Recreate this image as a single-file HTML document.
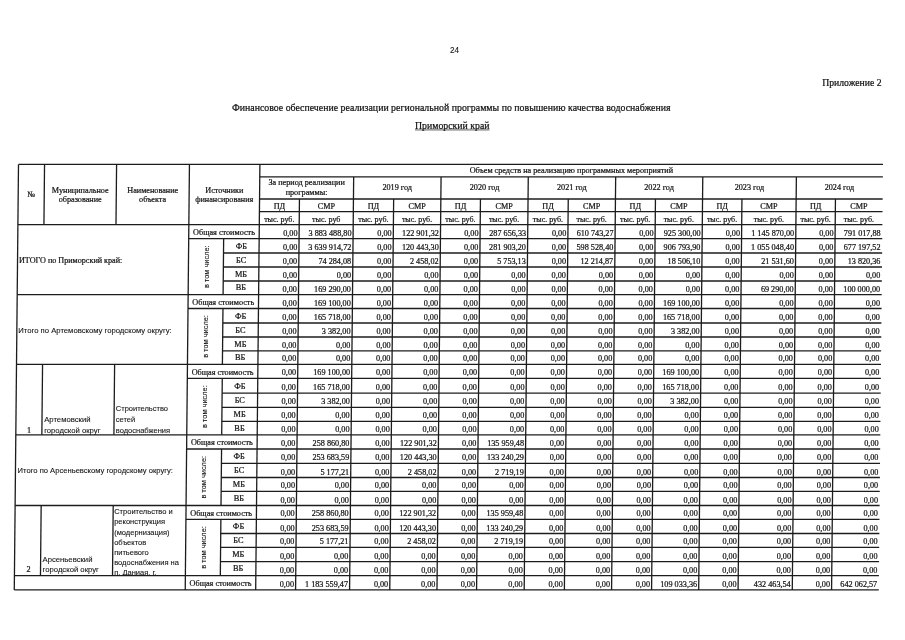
<!DOCTYPE html><html><head><meta charset="utf-8"><style>html,body{margin:0;padding:0;background:#fff;}body{width:905px;height:640px;overflow:hidden;position:relative;}svg{position:absolute;left:0;top:0;will-change:transform;} text{fill:#141414;} text.s{stroke:#111;stroke-width:0.22px;} text.a{stroke:#111;stroke-width:0.1px;}</style></head><body>
<svg width="905" height="640" viewBox="0 0 905 640">
<g stroke="#1c1c1c" stroke-width="1.3" fill="none">
<line x1="18.49" y1="164.40" x2="882.99" y2="164.40"/>
<line x1="259.77" y1="176.90" x2="882.87" y2="176.90"/>
<line x1="259.55" y1="199.00" x2="882.65" y2="199.00"/>
<line x1="259.42" y1="211.60" x2="882.52" y2="211.60"/>
<line x1="17.89" y1="224.70" x2="882.39" y2="224.70"/>
<line x1="18.49" y1="164.40" x2="14.28" y2="589.90"/>
<line x1="44.54" y1="164.40" x2="43.94" y2="224.70"/>
<line x1="116.59" y1="164.40" x2="115.99" y2="224.70"/>
<line x1="189.44" y1="164.40" x2="185.23" y2="589.90"/>
<line x1="259.89" y1="164.40" x2="255.68" y2="589.90"/>
<line x1="299.45" y1="199.00" x2="295.58" y2="589.90"/>
<line x1="353.67" y1="176.90" x2="349.58" y2="589.90"/>
<line x1="393.65" y1="199.00" x2="389.78" y2="589.90"/>
<line x1="441.07" y1="176.90" x2="436.98" y2="589.90"/>
<line x1="480.45" y1="199.00" x2="476.58" y2="589.90"/>
<line x1="528.27" y1="176.90" x2="524.18" y2="589.90"/>
<line x1="568.25" y1="199.00" x2="564.38" y2="589.90"/>
<line x1="615.67" y1="176.90" x2="611.58" y2="589.90"/>
<line x1="655.45" y1="199.00" x2="651.58" y2="589.90"/>
<line x1="702.77" y1="176.90" x2="698.68" y2="589.90"/>
<line x1="741.95" y1="199.00" x2="738.08" y2="589.90"/>
<line x1="796.37" y1="176.90" x2="792.28" y2="589.90"/>
<line x1="835.45" y1="199.00" x2="831.58" y2="589.90"/>
<line x1="17.20" y1="294.70" x2="881.70" y2="294.70"/>
<line x1="188.70" y1="238.70" x2="882.25" y2="238.70"/>
<line x1="223.51" y1="253.00" x2="882.11" y2="253.00"/>
<line x1="223.37" y1="267.00" x2="881.97" y2="267.00"/>
<line x1="223.24" y1="281.00" x2="881.84" y2="281.00"/>
<line x1="223.65" y1="238.70" x2="223.10" y2="294.70"/>
<line x1="16.51" y1="364.40" x2="881.01" y2="364.40"/>
<line x1="188.01" y1="308.50" x2="881.56" y2="308.50"/>
<line x1="222.82" y1="323.00" x2="881.42" y2="323.00"/>
<line x1="222.68" y1="337.00" x2="881.28" y2="337.00"/>
<line x1="222.54" y1="350.80" x2="881.14" y2="350.80"/>
<line x1="222.96" y1="308.50" x2="222.41" y2="364.40"/>
<line x1="15.81" y1="434.80" x2="880.31" y2="434.80"/>
<line x1="187.32" y1="378.40" x2="880.87" y2="378.40"/>
<line x1="222.12" y1="393.20" x2="880.72" y2="393.20"/>
<line x1="221.99" y1="407.30" x2="880.59" y2="407.30"/>
<line x1="221.85" y1="421.40" x2="880.45" y2="421.40"/>
<line x1="222.27" y1="378.40" x2="221.71" y2="434.80"/>
<line x1="42.56" y1="364.40" x2="41.86" y2="434.80"/>
<line x1="114.61" y1="364.40" x2="113.91" y2="434.80"/>
<line x1="15.11" y1="505.50" x2="879.61" y2="505.50"/>
<line x1="186.62" y1="449.00" x2="880.17" y2="449.00"/>
<line x1="221.43" y1="463.40" x2="880.03" y2="463.40"/>
<line x1="221.29" y1="477.50" x2="879.89" y2="477.50"/>
<line x1="221.15" y1="491.30" x2="879.75" y2="491.30"/>
<line x1="221.57" y1="449.00" x2="221.01" y2="505.50"/>
<line x1="14.42" y1="575.70" x2="878.92" y2="575.70"/>
<line x1="185.93" y1="519.30" x2="879.48" y2="519.30"/>
<line x1="220.74" y1="533.50" x2="879.34" y2="533.50"/>
<line x1="220.60" y1="547.30" x2="879.20" y2="547.30"/>
<line x1="220.46" y1="561.70" x2="879.06" y2="561.70"/>
<line x1="220.88" y1="519.30" x2="220.32" y2="575.70"/>
<line x1="41.16" y1="505.50" x2="40.47" y2="575.70"/>
<line x1="113.21" y1="505.50" x2="112.52" y2="575.70"/>
<line x1="14.28" y1="589.90" x2="878.78" y2="589.90"/>
</g>
<rect x="415" y="128.7" width="74.5" height="2.0" fill="#a0a0a0"/>
<defs><clipPath id="cp5"><rect x="100" y="505.5" width="90" height="69.60000000000005"/></clipPath></defs>
<text class="a" x="450.00" y="53.20" font-family="'Liberation Sans', sans-serif" font-size="8.2" text-anchor="start" stroke="#111" stroke-width="0.3">24</text>
<text class="s" x="881.50" y="85.50" font-family="'Liberation Serif', serif" font-size="9.7" text-anchor="end" >Приложение 2</text>
<text class="s" x="232.00" y="110.60" font-family="'Liberation Serif', serif" font-size="9.85" text-anchor="start" >Финансовое обеспечение реализации региональной программы по повышению качества водоснабжения</text>
<text class="s" x="415.00" y="128.60" font-family="'Liberation Serif', serif" font-size="9.8" text-anchor="start" >Приморский край</text>
<text class="s" x="31.20" y="196.50" font-family="'Liberation Serif', serif" font-size="8.2" text-anchor="middle" >№</text>
<text class="s" x="80.28" y="192.80" font-family="'Liberation Serif', serif" font-size="8.2" text-anchor="middle" >Муниципальное</text>
<text class="s" x="80.19" y="202.40" font-family="'Liberation Serif', serif" font-size="8.2" text-anchor="middle" >образование</text>
<text class="s" x="152.73" y="192.80" font-family="'Liberation Serif', serif" font-size="8.2" text-anchor="middle" >Наименование</text>
<text class="s" x="152.64" y="202.40" font-family="'Liberation Serif', serif" font-size="8.2" text-anchor="middle" >объекта</text>
<text class="s" x="224.38" y="192.80" font-family="'Liberation Serif', serif" font-size="8.2" text-anchor="middle" >Источники</text>
<text class="s" x="224.29" y="202.40" font-family="'Liberation Serif', serif" font-size="8.2" text-anchor="middle" >финансирования</text>
<text class="s" x="571.35" y="173.30" font-family="'Liberation Serif', serif" font-size="8.2" text-anchor="middle" >Объем средств на реализацию программных мероприятий</text>
<text class="s" x="306.63" y="185.30" font-family="'Liberation Serif', serif" font-size="8.2" text-anchor="middle" >За период реализации</text>
<text class="s" x="306.53" y="195.30" font-family="'Liberation Serif', serif" font-size="8.2" text-anchor="middle" >программы:</text>
<text class="s" x="397.23" y="190.30" font-family="'Liberation Serif', serif" font-size="8.2" text-anchor="middle" >2019 год</text>
<text class="s" x="484.53" y="190.30" font-family="'Liberation Serif', serif" font-size="8.2" text-anchor="middle" >2020 год</text>
<text class="s" x="571.83" y="190.30" font-family="'Liberation Serif', serif" font-size="8.2" text-anchor="middle" >2021 год</text>
<text class="s" x="659.08" y="190.30" font-family="'Liberation Serif', serif" font-size="8.2" text-anchor="middle" >2022 год</text>
<text class="s" x="749.43" y="190.30" font-family="'Liberation Serif', serif" font-size="8.2" text-anchor="middle" >2023 год</text>
<text class="s" x="839.48" y="190.30" font-family="'Liberation Serif', serif" font-size="8.2" text-anchor="middle" >2024 год</text>
<text class="s" x="279.40" y="209.20" font-family="'Liberation Serif', serif" font-size="8.2" text-anchor="middle" >ПД</text>
<text class="s" x="326.35" y="209.20" font-family="'Liberation Serif', serif" font-size="8.2" text-anchor="middle" >СМР</text>
<text class="s" x="279.27" y="221.60" font-family="'Liberation Serif', serif" font-size="8.0" text-anchor="middle" >тыс. руб.</text>
<text class="s" x="326.22" y="221.60" font-family="'Liberation Serif', serif" font-size="8.0" text-anchor="middle" >тыс. руб</text>
<text class="s" x="373.45" y="209.20" font-family="'Liberation Serif', serif" font-size="8.2" text-anchor="middle" >ПД</text>
<text class="s" x="417.15" y="209.20" font-family="'Liberation Serif', serif" font-size="8.2" text-anchor="middle" >СМР</text>
<text class="s" x="373.32" y="221.60" font-family="'Liberation Serif', serif" font-size="8.0" text-anchor="middle" >тыс. руб.</text>
<text class="s" x="417.02" y="221.60" font-family="'Liberation Serif', serif" font-size="8.0" text-anchor="middle" >тыс. руб.</text>
<text class="s" x="460.55" y="209.20" font-family="'Liberation Serif', serif" font-size="8.2" text-anchor="middle" >ПД</text>
<text class="s" x="504.15" y="209.20" font-family="'Liberation Serif', serif" font-size="8.2" text-anchor="middle" >СМР</text>
<text class="s" x="460.42" y="221.60" font-family="'Liberation Serif', serif" font-size="8.0" text-anchor="middle" >тыс. руб.</text>
<text class="s" x="504.02" y="221.60" font-family="'Liberation Serif', serif" font-size="8.0" text-anchor="middle" >тыс. руб.</text>
<text class="s" x="548.05" y="209.20" font-family="'Liberation Serif', serif" font-size="8.2" text-anchor="middle" >ПД</text>
<text class="s" x="591.75" y="209.20" font-family="'Liberation Serif', serif" font-size="8.2" text-anchor="middle" >СМР</text>
<text class="s" x="547.92" y="221.60" font-family="'Liberation Serif', serif" font-size="8.0" text-anchor="middle" >тыс. руб.</text>
<text class="s" x="591.62" y="221.60" font-family="'Liberation Serif', serif" font-size="8.0" text-anchor="middle" >тыс. руб.</text>
<text class="s" x="635.35" y="209.20" font-family="'Liberation Serif', serif" font-size="8.2" text-anchor="middle" >ПД</text>
<text class="s" x="678.90" y="209.20" font-family="'Liberation Serif', serif" font-size="8.2" text-anchor="middle" >СМР</text>
<text class="s" x="635.22" y="221.60" font-family="'Liberation Serif', serif" font-size="8.0" text-anchor="middle" >тыс. руб.</text>
<text class="s" x="678.77" y="221.60" font-family="'Liberation Serif', serif" font-size="8.0" text-anchor="middle" >тыс. руб.</text>
<text class="s" x="722.15" y="209.20" font-family="'Liberation Serif', serif" font-size="8.2" text-anchor="middle" >ПД</text>
<text class="s" x="768.95" y="209.20" font-family="'Liberation Serif', serif" font-size="8.2" text-anchor="middle" >СМР</text>
<text class="s" x="722.02" y="221.60" font-family="'Liberation Serif', serif" font-size="8.0" text-anchor="middle" >тыс. руб.</text>
<text class="s" x="768.82" y="221.60" font-family="'Liberation Serif', serif" font-size="8.0" text-anchor="middle" >тыс. руб.</text>
<text class="s" x="815.70" y="209.20" font-family="'Liberation Serif', serif" font-size="8.2" text-anchor="middle" >ПД</text>
<text class="s" x="858.95" y="209.20" font-family="'Liberation Serif', serif" font-size="8.2" text-anchor="middle" >СМР</text>
<text class="s" x="815.57" y="221.60" font-family="'Liberation Serif', serif" font-size="8.0" text-anchor="middle" >тыс. руб.</text>
<text class="s" x="858.82" y="221.60" font-family="'Liberation Serif', serif" font-size="8.0" text-anchor="middle" >тыс. руб.</text>
<text class="s" x="297.48" y="235.70" font-family="'Liberation Serif', serif" font-size="8.2" text-anchor="end" >0,00</text>
<text class="s" x="351.48" y="235.70" font-family="'Liberation Serif', serif" font-size="8.2" text-anchor="end" >3 883 488,80</text>
<text class="s" x="391.68" y="235.70" font-family="'Liberation Serif', serif" font-size="8.2" text-anchor="end" >0,00</text>
<text class="s" x="438.88" y="235.70" font-family="'Liberation Serif', serif" font-size="8.2" text-anchor="end" >122 901,32</text>
<text class="s" x="478.48" y="235.70" font-family="'Liberation Serif', serif" font-size="8.2" text-anchor="end" >0,00</text>
<text class="s" x="526.08" y="235.70" font-family="'Liberation Serif', serif" font-size="8.2" text-anchor="end" >287 656,33</text>
<text class="s" x="566.28" y="235.70" font-family="'Liberation Serif', serif" font-size="8.2" text-anchor="end" >0,00</text>
<text class="s" x="613.48" y="235.70" font-family="'Liberation Serif', serif" font-size="8.2" text-anchor="end" >610 743,27</text>
<text class="s" x="653.48" y="235.70" font-family="'Liberation Serif', serif" font-size="8.2" text-anchor="end" >0,00</text>
<text class="s" x="700.58" y="235.70" font-family="'Liberation Serif', serif" font-size="8.2" text-anchor="end" >925 300,00</text>
<text class="s" x="739.98" y="235.70" font-family="'Liberation Serif', serif" font-size="8.2" text-anchor="end" >0,00</text>
<text class="s" x="794.18" y="235.70" font-family="'Liberation Serif', serif" font-size="8.2" text-anchor="end" >1 145 870,00</text>
<text class="s" x="833.48" y="235.70" font-family="'Liberation Serif', serif" font-size="8.2" text-anchor="end" >0,00</text>
<text class="s" x="880.68" y="235.70" font-family="'Liberation Serif', serif" font-size="8.2" text-anchor="end" >791 017,88</text>
<text class="s" x="223.97" y="235.00" font-family="'Liberation Serif', serif" font-size="8.2" text-anchor="middle" >Общая стоимость</text>
<text class="s" x="297.34" y="250.00" font-family="'Liberation Serif', serif" font-size="8.2" text-anchor="end" >0,00</text>
<text class="s" x="351.34" y="250.00" font-family="'Liberation Serif', serif" font-size="8.2" text-anchor="end" >3 639 914,72</text>
<text class="s" x="391.54" y="250.00" font-family="'Liberation Serif', serif" font-size="8.2" text-anchor="end" >0,00</text>
<text class="s" x="438.74" y="250.00" font-family="'Liberation Serif', serif" font-size="8.2" text-anchor="end" >120 443,30</text>
<text class="s" x="478.34" y="250.00" font-family="'Liberation Serif', serif" font-size="8.2" text-anchor="end" >0,00</text>
<text class="s" x="525.94" y="250.00" font-family="'Liberation Serif', serif" font-size="8.2" text-anchor="end" >281 903,20</text>
<text class="s" x="566.14" y="250.00" font-family="'Liberation Serif', serif" font-size="8.2" text-anchor="end" >0,00</text>
<text class="s" x="613.34" y="250.00" font-family="'Liberation Serif', serif" font-size="8.2" text-anchor="end" >598 528,40</text>
<text class="s" x="653.34" y="250.00" font-family="'Liberation Serif', serif" font-size="8.2" text-anchor="end" >0,00</text>
<text class="s" x="700.44" y="250.00" font-family="'Liberation Serif', serif" font-size="8.2" text-anchor="end" >906 793,90</text>
<text class="s" x="739.84" y="250.00" font-family="'Liberation Serif', serif" font-size="8.2" text-anchor="end" >0,00</text>
<text class="s" x="794.04" y="250.00" font-family="'Liberation Serif', serif" font-size="8.2" text-anchor="end" >1 055 048,40</text>
<text class="s" x="833.34" y="250.00" font-family="'Liberation Serif', serif" font-size="8.2" text-anchor="end" >0,00</text>
<text class="s" x="880.54" y="250.00" font-family="'Liberation Serif', serif" font-size="8.2" text-anchor="end" >677 197,52</text>
<text class="s" x="241.31" y="248.70" font-family="'Liberation Serif', serif" font-size="8.3" text-anchor="middle" >ФБ</text>
<text class="s" x="297.20" y="264.00" font-family="'Liberation Serif', serif" font-size="8.2" text-anchor="end" >0,00</text>
<text class="s" x="351.20" y="264.00" font-family="'Liberation Serif', serif" font-size="8.2" text-anchor="end" >74 284,08</text>
<text class="s" x="391.40" y="264.00" font-family="'Liberation Serif', serif" font-size="8.2" text-anchor="end" >0,00</text>
<text class="s" x="438.60" y="264.00" font-family="'Liberation Serif', serif" font-size="8.2" text-anchor="end" >2 458,02</text>
<text class="s" x="478.20" y="264.00" font-family="'Liberation Serif', serif" font-size="8.2" text-anchor="end" >0,00</text>
<text class="s" x="525.80" y="264.00" font-family="'Liberation Serif', serif" font-size="8.2" text-anchor="end" >5 753,13</text>
<text class="s" x="566.00" y="264.00" font-family="'Liberation Serif', serif" font-size="8.2" text-anchor="end" >0,00</text>
<text class="s" x="613.20" y="264.00" font-family="'Liberation Serif', serif" font-size="8.2" text-anchor="end" >12 214,87</text>
<text class="s" x="653.20" y="264.00" font-family="'Liberation Serif', serif" font-size="8.2" text-anchor="end" >0,00</text>
<text class="s" x="700.30" y="264.00" font-family="'Liberation Serif', serif" font-size="8.2" text-anchor="end" >18 506,10</text>
<text class="s" x="739.70" y="264.00" font-family="'Liberation Serif', serif" font-size="8.2" text-anchor="end" >0,00</text>
<text class="s" x="793.90" y="264.00" font-family="'Liberation Serif', serif" font-size="8.2" text-anchor="end" >21 531,60</text>
<text class="s" x="833.20" y="264.00" font-family="'Liberation Serif', serif" font-size="8.2" text-anchor="end" >0,00</text>
<text class="s" x="880.40" y="264.00" font-family="'Liberation Serif', serif" font-size="8.2" text-anchor="end" >13 820,36</text>
<text class="s" x="241.17" y="262.70" font-family="'Liberation Serif', serif" font-size="8.3" text-anchor="middle" >БС</text>
<text class="s" x="297.07" y="278.00" font-family="'Liberation Serif', serif" font-size="8.2" text-anchor="end" >0,00</text>
<text class="s" x="351.07" y="278.00" font-family="'Liberation Serif', serif" font-size="8.2" text-anchor="end" >0,00</text>
<text class="s" x="391.27" y="278.00" font-family="'Liberation Serif', serif" font-size="8.2" text-anchor="end" >0,00</text>
<text class="s" x="438.47" y="278.00" font-family="'Liberation Serif', serif" font-size="8.2" text-anchor="end" >0,00</text>
<text class="s" x="478.07" y="278.00" font-family="'Liberation Serif', serif" font-size="8.2" text-anchor="end" >0,00</text>
<text class="s" x="525.67" y="278.00" font-family="'Liberation Serif', serif" font-size="8.2" text-anchor="end" >0,00</text>
<text class="s" x="565.87" y="278.00" font-family="'Liberation Serif', serif" font-size="8.2" text-anchor="end" >0,00</text>
<text class="s" x="613.07" y="278.00" font-family="'Liberation Serif', serif" font-size="8.2" text-anchor="end" >0,00</text>
<text class="s" x="653.07" y="278.00" font-family="'Liberation Serif', serif" font-size="8.2" text-anchor="end" >0,00</text>
<text class="s" x="700.17" y="278.00" font-family="'Liberation Serif', serif" font-size="8.2" text-anchor="end" >0,00</text>
<text class="s" x="739.57" y="278.00" font-family="'Liberation Serif', serif" font-size="8.2" text-anchor="end" >0,00</text>
<text class="s" x="793.77" y="278.00" font-family="'Liberation Serif', serif" font-size="8.2" text-anchor="end" >0,00</text>
<text class="s" x="833.07" y="278.00" font-family="'Liberation Serif', serif" font-size="8.2" text-anchor="end" >0,00</text>
<text class="s" x="880.27" y="278.00" font-family="'Liberation Serif', serif" font-size="8.2" text-anchor="end" >0,00</text>
<text class="s" x="241.03" y="276.70" font-family="'Liberation Serif', serif" font-size="8.3" text-anchor="middle" >МБ</text>
<text class="s" x="296.93" y="291.70" font-family="'Liberation Serif', serif" font-size="8.2" text-anchor="end" >0,00</text>
<text class="s" x="350.93" y="291.70" font-family="'Liberation Serif', serif" font-size="8.2" text-anchor="end" >169 290,00</text>
<text class="s" x="391.13" y="291.70" font-family="'Liberation Serif', serif" font-size="8.2" text-anchor="end" >0,00</text>
<text class="s" x="438.33" y="291.70" font-family="'Liberation Serif', serif" font-size="8.2" text-anchor="end" >0,00</text>
<text class="s" x="477.93" y="291.70" font-family="'Liberation Serif', serif" font-size="8.2" text-anchor="end" >0,00</text>
<text class="s" x="525.53" y="291.70" font-family="'Liberation Serif', serif" font-size="8.2" text-anchor="end" >0,00</text>
<text class="s" x="565.73" y="291.70" font-family="'Liberation Serif', serif" font-size="8.2" text-anchor="end" >0,00</text>
<text class="s" x="612.93" y="291.70" font-family="'Liberation Serif', serif" font-size="8.2" text-anchor="end" >0,00</text>
<text class="s" x="652.93" y="291.70" font-family="'Liberation Serif', serif" font-size="8.2" text-anchor="end" >0,00</text>
<text class="s" x="700.03" y="291.70" font-family="'Liberation Serif', serif" font-size="8.2" text-anchor="end" >0,00</text>
<text class="s" x="739.43" y="291.70" font-family="'Liberation Serif', serif" font-size="8.2" text-anchor="end" >0,00</text>
<text class="s" x="793.63" y="291.70" font-family="'Liberation Serif', serif" font-size="8.2" text-anchor="end" >69 290,00</text>
<text class="s" x="832.93" y="291.70" font-family="'Liberation Serif', serif" font-size="8.2" text-anchor="end" >0,00</text>
<text class="s" x="880.13" y="291.70" font-family="'Liberation Serif', serif" font-size="8.2" text-anchor="end" >100 000,00</text>
<text class="s" x="240.89" y="290.40" font-family="'Liberation Serif', serif" font-size="8.3" text-anchor="middle" >ВБ</text>
<text class="s" x="296.79" y="305.50" font-family="'Liberation Serif', serif" font-size="8.2" text-anchor="end" >0,00</text>
<text class="s" x="350.79" y="305.50" font-family="'Liberation Serif', serif" font-size="8.2" text-anchor="end" >169 100,00</text>
<text class="s" x="390.99" y="305.50" font-family="'Liberation Serif', serif" font-size="8.2" text-anchor="end" >0,00</text>
<text class="s" x="438.19" y="305.50" font-family="'Liberation Serif', serif" font-size="8.2" text-anchor="end" >0,00</text>
<text class="s" x="477.79" y="305.50" font-family="'Liberation Serif', serif" font-size="8.2" text-anchor="end" >0,00</text>
<text class="s" x="525.39" y="305.50" font-family="'Liberation Serif', serif" font-size="8.2" text-anchor="end" >0,00</text>
<text class="s" x="565.59" y="305.50" font-family="'Liberation Serif', serif" font-size="8.2" text-anchor="end" >0,00</text>
<text class="s" x="612.79" y="305.50" font-family="'Liberation Serif', serif" font-size="8.2" text-anchor="end" >0,00</text>
<text class="s" x="652.79" y="305.50" font-family="'Liberation Serif', serif" font-size="8.2" text-anchor="end" >0,00</text>
<text class="s" x="699.89" y="305.50" font-family="'Liberation Serif', serif" font-size="8.2" text-anchor="end" >169 100,00</text>
<text class="s" x="739.29" y="305.50" font-family="'Liberation Serif', serif" font-size="8.2" text-anchor="end" >0,00</text>
<text class="s" x="793.49" y="305.50" font-family="'Liberation Serif', serif" font-size="8.2" text-anchor="end" >0,00</text>
<text class="s" x="832.79" y="305.50" font-family="'Liberation Serif', serif" font-size="8.2" text-anchor="end" >0,00</text>
<text class="s" x="879.99" y="305.50" font-family="'Liberation Serif', serif" font-size="8.2" text-anchor="end" >0,00</text>
<text class="s" x="223.28" y="304.80" font-family="'Liberation Serif', serif" font-size="8.2" text-anchor="middle" >Общая стоимость</text>
<text class="s" x="296.65" y="320.00" font-family="'Liberation Serif', serif" font-size="8.2" text-anchor="end" >0,00</text>
<text class="s" x="350.65" y="320.00" font-family="'Liberation Serif', serif" font-size="8.2" text-anchor="end" >165 718,00</text>
<text class="s" x="390.85" y="320.00" font-family="'Liberation Serif', serif" font-size="8.2" text-anchor="end" >0,00</text>
<text class="s" x="438.05" y="320.00" font-family="'Liberation Serif', serif" font-size="8.2" text-anchor="end" >0,00</text>
<text class="s" x="477.65" y="320.00" font-family="'Liberation Serif', serif" font-size="8.2" text-anchor="end" >0,00</text>
<text class="s" x="525.25" y="320.00" font-family="'Liberation Serif', serif" font-size="8.2" text-anchor="end" >0,00</text>
<text class="s" x="565.45" y="320.00" font-family="'Liberation Serif', serif" font-size="8.2" text-anchor="end" >0,00</text>
<text class="s" x="612.65" y="320.00" font-family="'Liberation Serif', serif" font-size="8.2" text-anchor="end" >0,00</text>
<text class="s" x="652.65" y="320.00" font-family="'Liberation Serif', serif" font-size="8.2" text-anchor="end" >0,00</text>
<text class="s" x="699.75" y="320.00" font-family="'Liberation Serif', serif" font-size="8.2" text-anchor="end" >165 718,00</text>
<text class="s" x="739.15" y="320.00" font-family="'Liberation Serif', serif" font-size="8.2" text-anchor="end" >0,00</text>
<text class="s" x="793.35" y="320.00" font-family="'Liberation Serif', serif" font-size="8.2" text-anchor="end" >0,00</text>
<text class="s" x="832.65" y="320.00" font-family="'Liberation Serif', serif" font-size="8.2" text-anchor="end" >0,00</text>
<text class="s" x="879.85" y="320.00" font-family="'Liberation Serif', serif" font-size="8.2" text-anchor="end" >0,00</text>
<text class="s" x="240.61" y="318.70" font-family="'Liberation Serif', serif" font-size="8.3" text-anchor="middle" >ФБ</text>
<text class="s" x="296.51" y="334.00" font-family="'Liberation Serif', serif" font-size="8.2" text-anchor="end" >0,00</text>
<text class="s" x="350.51" y="334.00" font-family="'Liberation Serif', serif" font-size="8.2" text-anchor="end" >3 382,00</text>
<text class="s" x="390.71" y="334.00" font-family="'Liberation Serif', serif" font-size="8.2" text-anchor="end" >0,00</text>
<text class="s" x="437.91" y="334.00" font-family="'Liberation Serif', serif" font-size="8.2" text-anchor="end" >0,00</text>
<text class="s" x="477.51" y="334.00" font-family="'Liberation Serif', serif" font-size="8.2" text-anchor="end" >0,00</text>
<text class="s" x="525.11" y="334.00" font-family="'Liberation Serif', serif" font-size="8.2" text-anchor="end" >0,00</text>
<text class="s" x="565.31" y="334.00" font-family="'Liberation Serif', serif" font-size="8.2" text-anchor="end" >0,00</text>
<text class="s" x="612.51" y="334.00" font-family="'Liberation Serif', serif" font-size="8.2" text-anchor="end" >0,00</text>
<text class="s" x="652.51" y="334.00" font-family="'Liberation Serif', serif" font-size="8.2" text-anchor="end" >0,00</text>
<text class="s" x="699.61" y="334.00" font-family="'Liberation Serif', serif" font-size="8.2" text-anchor="end" >3 382,00</text>
<text class="s" x="739.01" y="334.00" font-family="'Liberation Serif', serif" font-size="8.2" text-anchor="end" >0,00</text>
<text class="s" x="793.21" y="334.00" font-family="'Liberation Serif', serif" font-size="8.2" text-anchor="end" >0,00</text>
<text class="s" x="832.51" y="334.00" font-family="'Liberation Serif', serif" font-size="8.2" text-anchor="end" >0,00</text>
<text class="s" x="879.71" y="334.00" font-family="'Liberation Serif', serif" font-size="8.2" text-anchor="end" >0,00</text>
<text class="s" x="240.47" y="332.70" font-family="'Liberation Serif', serif" font-size="8.3" text-anchor="middle" >БС</text>
<text class="s" x="296.37" y="347.80" font-family="'Liberation Serif', serif" font-size="8.2" text-anchor="end" >0,00</text>
<text class="s" x="350.37" y="347.80" font-family="'Liberation Serif', serif" font-size="8.2" text-anchor="end" >0,00</text>
<text class="s" x="390.57" y="347.80" font-family="'Liberation Serif', serif" font-size="8.2" text-anchor="end" >0,00</text>
<text class="s" x="437.77" y="347.80" font-family="'Liberation Serif', serif" font-size="8.2" text-anchor="end" >0,00</text>
<text class="s" x="477.37" y="347.80" font-family="'Liberation Serif', serif" font-size="8.2" text-anchor="end" >0,00</text>
<text class="s" x="524.97" y="347.80" font-family="'Liberation Serif', serif" font-size="8.2" text-anchor="end" >0,00</text>
<text class="s" x="565.17" y="347.80" font-family="'Liberation Serif', serif" font-size="8.2" text-anchor="end" >0,00</text>
<text class="s" x="612.37" y="347.80" font-family="'Liberation Serif', serif" font-size="8.2" text-anchor="end" >0,00</text>
<text class="s" x="652.37" y="347.80" font-family="'Liberation Serif', serif" font-size="8.2" text-anchor="end" >0,00</text>
<text class="s" x="699.47" y="347.80" font-family="'Liberation Serif', serif" font-size="8.2" text-anchor="end" >0,00</text>
<text class="s" x="738.87" y="347.80" font-family="'Liberation Serif', serif" font-size="8.2" text-anchor="end" >0,00</text>
<text class="s" x="793.07" y="347.80" font-family="'Liberation Serif', serif" font-size="8.2" text-anchor="end" >0,00</text>
<text class="s" x="832.37" y="347.80" font-family="'Liberation Serif', serif" font-size="8.2" text-anchor="end" >0,00</text>
<text class="s" x="879.57" y="347.80" font-family="'Liberation Serif', serif" font-size="8.2" text-anchor="end" >0,00</text>
<text class="s" x="240.34" y="346.50" font-family="'Liberation Serif', serif" font-size="8.3" text-anchor="middle" >МБ</text>
<text class="s" x="296.24" y="361.40" font-family="'Liberation Serif', serif" font-size="8.2" text-anchor="end" >0,00</text>
<text class="s" x="350.24" y="361.40" font-family="'Liberation Serif', serif" font-size="8.2" text-anchor="end" >0,00</text>
<text class="s" x="390.44" y="361.40" font-family="'Liberation Serif', serif" font-size="8.2" text-anchor="end" >0,00</text>
<text class="s" x="437.64" y="361.40" font-family="'Liberation Serif', serif" font-size="8.2" text-anchor="end" >0,00</text>
<text class="s" x="477.24" y="361.40" font-family="'Liberation Serif', serif" font-size="8.2" text-anchor="end" >0,00</text>
<text class="s" x="524.84" y="361.40" font-family="'Liberation Serif', serif" font-size="8.2" text-anchor="end" >0,00</text>
<text class="s" x="565.04" y="361.40" font-family="'Liberation Serif', serif" font-size="8.2" text-anchor="end" >0,00</text>
<text class="s" x="612.24" y="361.40" font-family="'Liberation Serif', serif" font-size="8.2" text-anchor="end" >0,00</text>
<text class="s" x="652.24" y="361.40" font-family="'Liberation Serif', serif" font-size="8.2" text-anchor="end" >0,00</text>
<text class="s" x="699.34" y="361.40" font-family="'Liberation Serif', serif" font-size="8.2" text-anchor="end" >0,00</text>
<text class="s" x="738.74" y="361.40" font-family="'Liberation Serif', serif" font-size="8.2" text-anchor="end" >0,00</text>
<text class="s" x="792.94" y="361.40" font-family="'Liberation Serif', serif" font-size="8.2" text-anchor="end" >0,00</text>
<text class="s" x="832.24" y="361.40" font-family="'Liberation Serif', serif" font-size="8.2" text-anchor="end" >0,00</text>
<text class="s" x="879.44" y="361.40" font-family="'Liberation Serif', serif" font-size="8.2" text-anchor="end" >0,00</text>
<text class="s" x="240.20" y="360.10" font-family="'Liberation Serif', serif" font-size="8.3" text-anchor="middle" >ВБ</text>
<text class="s" x="296.10" y="375.40" font-family="'Liberation Serif', serif" font-size="8.2" text-anchor="end" >0,00</text>
<text class="s" x="350.10" y="375.40" font-family="'Liberation Serif', serif" font-size="8.2" text-anchor="end" >169 100,00</text>
<text class="s" x="390.30" y="375.40" font-family="'Liberation Serif', serif" font-size="8.2" text-anchor="end" >0,00</text>
<text class="s" x="437.50" y="375.40" font-family="'Liberation Serif', serif" font-size="8.2" text-anchor="end" >0,00</text>
<text class="s" x="477.10" y="375.40" font-family="'Liberation Serif', serif" font-size="8.2" text-anchor="end" >0,00</text>
<text class="s" x="524.70" y="375.40" font-family="'Liberation Serif', serif" font-size="8.2" text-anchor="end" >0,00</text>
<text class="s" x="564.90" y="375.40" font-family="'Liberation Serif', serif" font-size="8.2" text-anchor="end" >0,00</text>
<text class="s" x="612.10" y="375.40" font-family="'Liberation Serif', serif" font-size="8.2" text-anchor="end" >0,00</text>
<text class="s" x="652.10" y="375.40" font-family="'Liberation Serif', serif" font-size="8.2" text-anchor="end" >0,00</text>
<text class="s" x="699.20" y="375.40" font-family="'Liberation Serif', serif" font-size="8.2" text-anchor="end" >169 100,00</text>
<text class="s" x="738.60" y="375.40" font-family="'Liberation Serif', serif" font-size="8.2" text-anchor="end" >0,00</text>
<text class="s" x="792.80" y="375.40" font-family="'Liberation Serif', serif" font-size="8.2" text-anchor="end" >0,00</text>
<text class="s" x="832.10" y="375.40" font-family="'Liberation Serif', serif" font-size="8.2" text-anchor="end" >0,00</text>
<text class="s" x="879.30" y="375.40" font-family="'Liberation Serif', serif" font-size="8.2" text-anchor="end" >0,00</text>
<text class="s" x="222.58" y="374.70" font-family="'Liberation Serif', serif" font-size="8.2" text-anchor="middle" >Общая стоимость</text>
<text class="s" x="295.95" y="390.20" font-family="'Liberation Serif', serif" font-size="8.2" text-anchor="end" >0,00</text>
<text class="s" x="349.95" y="390.20" font-family="'Liberation Serif', serif" font-size="8.2" text-anchor="end" >165 718,00</text>
<text class="s" x="390.15" y="390.20" font-family="'Liberation Serif', serif" font-size="8.2" text-anchor="end" >0,00</text>
<text class="s" x="437.35" y="390.20" font-family="'Liberation Serif', serif" font-size="8.2" text-anchor="end" >0,00</text>
<text class="s" x="476.95" y="390.20" font-family="'Liberation Serif', serif" font-size="8.2" text-anchor="end" >0,00</text>
<text class="s" x="524.55" y="390.20" font-family="'Liberation Serif', serif" font-size="8.2" text-anchor="end" >0,00</text>
<text class="s" x="564.75" y="390.20" font-family="'Liberation Serif', serif" font-size="8.2" text-anchor="end" >0,00</text>
<text class="s" x="611.95" y="390.20" font-family="'Liberation Serif', serif" font-size="8.2" text-anchor="end" >0,00</text>
<text class="s" x="651.95" y="390.20" font-family="'Liberation Serif', serif" font-size="8.2" text-anchor="end" >0,00</text>
<text class="s" x="699.05" y="390.20" font-family="'Liberation Serif', serif" font-size="8.2" text-anchor="end" >165 718,00</text>
<text class="s" x="738.45" y="390.20" font-family="'Liberation Serif', serif" font-size="8.2" text-anchor="end" >0,00</text>
<text class="s" x="792.65" y="390.20" font-family="'Liberation Serif', serif" font-size="8.2" text-anchor="end" >0,00</text>
<text class="s" x="831.95" y="390.20" font-family="'Liberation Serif', serif" font-size="8.2" text-anchor="end" >0,00</text>
<text class="s" x="879.15" y="390.20" font-family="'Liberation Serif', serif" font-size="8.2" text-anchor="end" >0,00</text>
<text class="s" x="239.92" y="388.90" font-family="'Liberation Serif', serif" font-size="8.3" text-anchor="middle" >ФБ</text>
<text class="s" x="295.82" y="404.30" font-family="'Liberation Serif', serif" font-size="8.2" text-anchor="end" >0,00</text>
<text class="s" x="349.82" y="404.30" font-family="'Liberation Serif', serif" font-size="8.2" text-anchor="end" >3 382,00</text>
<text class="s" x="390.02" y="404.30" font-family="'Liberation Serif', serif" font-size="8.2" text-anchor="end" >0,00</text>
<text class="s" x="437.22" y="404.30" font-family="'Liberation Serif', serif" font-size="8.2" text-anchor="end" >0,00</text>
<text class="s" x="476.82" y="404.30" font-family="'Liberation Serif', serif" font-size="8.2" text-anchor="end" >0,00</text>
<text class="s" x="524.42" y="404.30" font-family="'Liberation Serif', serif" font-size="8.2" text-anchor="end" >0,00</text>
<text class="s" x="564.62" y="404.30" font-family="'Liberation Serif', serif" font-size="8.2" text-anchor="end" >0,00</text>
<text class="s" x="611.82" y="404.30" font-family="'Liberation Serif', serif" font-size="8.2" text-anchor="end" >0,00</text>
<text class="s" x="651.82" y="404.30" font-family="'Liberation Serif', serif" font-size="8.2" text-anchor="end" >0,00</text>
<text class="s" x="698.92" y="404.30" font-family="'Liberation Serif', serif" font-size="8.2" text-anchor="end" >3 382,00</text>
<text class="s" x="738.32" y="404.30" font-family="'Liberation Serif', serif" font-size="8.2" text-anchor="end" >0,00</text>
<text class="s" x="792.52" y="404.30" font-family="'Liberation Serif', serif" font-size="8.2" text-anchor="end" >0,00</text>
<text class="s" x="831.82" y="404.30" font-family="'Liberation Serif', serif" font-size="8.2" text-anchor="end" >0,00</text>
<text class="s" x="879.02" y="404.30" font-family="'Liberation Serif', serif" font-size="8.2" text-anchor="end" >0,00</text>
<text class="s" x="239.78" y="403.00" font-family="'Liberation Serif', serif" font-size="8.3" text-anchor="middle" >БС</text>
<text class="s" x="295.68" y="418.40" font-family="'Liberation Serif', serif" font-size="8.2" text-anchor="end" >0,00</text>
<text class="s" x="349.68" y="418.40" font-family="'Liberation Serif', serif" font-size="8.2" text-anchor="end" >0,00</text>
<text class="s" x="389.88" y="418.40" font-family="'Liberation Serif', serif" font-size="8.2" text-anchor="end" >0,00</text>
<text class="s" x="437.08" y="418.40" font-family="'Liberation Serif', serif" font-size="8.2" text-anchor="end" >0,00</text>
<text class="s" x="476.68" y="418.40" font-family="'Liberation Serif', serif" font-size="8.2" text-anchor="end" >0,00</text>
<text class="s" x="524.28" y="418.40" font-family="'Liberation Serif', serif" font-size="8.2" text-anchor="end" >0,00</text>
<text class="s" x="564.48" y="418.40" font-family="'Liberation Serif', serif" font-size="8.2" text-anchor="end" >0,00</text>
<text class="s" x="611.68" y="418.40" font-family="'Liberation Serif', serif" font-size="8.2" text-anchor="end" >0,00</text>
<text class="s" x="651.68" y="418.40" font-family="'Liberation Serif', serif" font-size="8.2" text-anchor="end" >0,00</text>
<text class="s" x="698.78" y="418.40" font-family="'Liberation Serif', serif" font-size="8.2" text-anchor="end" >0,00</text>
<text class="s" x="738.18" y="418.40" font-family="'Liberation Serif', serif" font-size="8.2" text-anchor="end" >0,00</text>
<text class="s" x="792.38" y="418.40" font-family="'Liberation Serif', serif" font-size="8.2" text-anchor="end" >0,00</text>
<text class="s" x="831.68" y="418.40" font-family="'Liberation Serif', serif" font-size="8.2" text-anchor="end" >0,00</text>
<text class="s" x="878.88" y="418.40" font-family="'Liberation Serif', serif" font-size="8.2" text-anchor="end" >0,00</text>
<text class="s" x="239.64" y="417.10" font-family="'Liberation Serif', serif" font-size="8.3" text-anchor="middle" >МБ</text>
<text class="s" x="295.54" y="431.80" font-family="'Liberation Serif', serif" font-size="8.2" text-anchor="end" >0,00</text>
<text class="s" x="349.54" y="431.80" font-family="'Liberation Serif', serif" font-size="8.2" text-anchor="end" >0,00</text>
<text class="s" x="389.74" y="431.80" font-family="'Liberation Serif', serif" font-size="8.2" text-anchor="end" >0,00</text>
<text class="s" x="436.94" y="431.80" font-family="'Liberation Serif', serif" font-size="8.2" text-anchor="end" >0,00</text>
<text class="s" x="476.54" y="431.80" font-family="'Liberation Serif', serif" font-size="8.2" text-anchor="end" >0,00</text>
<text class="s" x="524.14" y="431.80" font-family="'Liberation Serif', serif" font-size="8.2" text-anchor="end" >0,00</text>
<text class="s" x="564.34" y="431.80" font-family="'Liberation Serif', serif" font-size="8.2" text-anchor="end" >0,00</text>
<text class="s" x="611.54" y="431.80" font-family="'Liberation Serif', serif" font-size="8.2" text-anchor="end" >0,00</text>
<text class="s" x="651.54" y="431.80" font-family="'Liberation Serif', serif" font-size="8.2" text-anchor="end" >0,00</text>
<text class="s" x="698.64" y="431.80" font-family="'Liberation Serif', serif" font-size="8.2" text-anchor="end" >0,00</text>
<text class="s" x="738.04" y="431.80" font-family="'Liberation Serif', serif" font-size="8.2" text-anchor="end" >0,00</text>
<text class="s" x="792.24" y="431.80" font-family="'Liberation Serif', serif" font-size="8.2" text-anchor="end" >0,00</text>
<text class="s" x="831.54" y="431.80" font-family="'Liberation Serif', serif" font-size="8.2" text-anchor="end" >0,00</text>
<text class="s" x="878.74" y="431.80" font-family="'Liberation Serif', serif" font-size="8.2" text-anchor="end" >0,00</text>
<text class="s" x="239.51" y="430.50" font-family="'Liberation Serif', serif" font-size="8.3" text-anchor="middle" >ВБ</text>
<text class="s" x="295.40" y="446.00" font-family="'Liberation Serif', serif" font-size="8.2" text-anchor="end" >0,00</text>
<text class="s" x="349.40" y="446.00" font-family="'Liberation Serif', serif" font-size="8.2" text-anchor="end" >258 860,80</text>
<text class="s" x="389.60" y="446.00" font-family="'Liberation Serif', serif" font-size="8.2" text-anchor="end" >0,00</text>
<text class="s" x="436.80" y="446.00" font-family="'Liberation Serif', serif" font-size="8.2" text-anchor="end" >122 901,32</text>
<text class="s" x="476.40" y="446.00" font-family="'Liberation Serif', serif" font-size="8.2" text-anchor="end" >0,00</text>
<text class="s" x="524.00" y="446.00" font-family="'Liberation Serif', serif" font-size="8.2" text-anchor="end" >135 959,48</text>
<text class="s" x="564.20" y="446.00" font-family="'Liberation Serif', serif" font-size="8.2" text-anchor="end" >0,00</text>
<text class="s" x="611.40" y="446.00" font-family="'Liberation Serif', serif" font-size="8.2" text-anchor="end" >0,00</text>
<text class="s" x="651.40" y="446.00" font-family="'Liberation Serif', serif" font-size="8.2" text-anchor="end" >0,00</text>
<text class="s" x="698.50" y="446.00" font-family="'Liberation Serif', serif" font-size="8.2" text-anchor="end" >0,00</text>
<text class="s" x="737.90" y="446.00" font-family="'Liberation Serif', serif" font-size="8.2" text-anchor="end" >0,00</text>
<text class="s" x="792.10" y="446.00" font-family="'Liberation Serif', serif" font-size="8.2" text-anchor="end" >0,00</text>
<text class="s" x="831.40" y="446.00" font-family="'Liberation Serif', serif" font-size="8.2" text-anchor="end" >0,00</text>
<text class="s" x="878.60" y="446.00" font-family="'Liberation Serif', serif" font-size="8.2" text-anchor="end" >0,00</text>
<text class="s" x="221.88" y="445.30" font-family="'Liberation Serif', serif" font-size="8.2" text-anchor="middle" >Общая стоимость</text>
<text class="s" x="295.26" y="460.40" font-family="'Liberation Serif', serif" font-size="8.2" text-anchor="end" >0,00</text>
<text class="s" x="349.26" y="460.40" font-family="'Liberation Serif', serif" font-size="8.2" text-anchor="end" >253 683,59</text>
<text class="s" x="389.46" y="460.40" font-family="'Liberation Serif', serif" font-size="8.2" text-anchor="end" >0,00</text>
<text class="s" x="436.66" y="460.40" font-family="'Liberation Serif', serif" font-size="8.2" text-anchor="end" >120 443,30</text>
<text class="s" x="476.26" y="460.40" font-family="'Liberation Serif', serif" font-size="8.2" text-anchor="end" >0,00</text>
<text class="s" x="523.86" y="460.40" font-family="'Liberation Serif', serif" font-size="8.2" text-anchor="end" >133 240,29</text>
<text class="s" x="564.06" y="460.40" font-family="'Liberation Serif', serif" font-size="8.2" text-anchor="end" >0,00</text>
<text class="s" x="611.26" y="460.40" font-family="'Liberation Serif', serif" font-size="8.2" text-anchor="end" >0,00</text>
<text class="s" x="651.26" y="460.40" font-family="'Liberation Serif', serif" font-size="8.2" text-anchor="end" >0,00</text>
<text class="s" x="698.36" y="460.40" font-family="'Liberation Serif', serif" font-size="8.2" text-anchor="end" >0,00</text>
<text class="s" x="737.76" y="460.40" font-family="'Liberation Serif', serif" font-size="8.2" text-anchor="end" >0,00</text>
<text class="s" x="791.96" y="460.40" font-family="'Liberation Serif', serif" font-size="8.2" text-anchor="end" >0,00</text>
<text class="s" x="831.26" y="460.40" font-family="'Liberation Serif', serif" font-size="8.2" text-anchor="end" >0,00</text>
<text class="s" x="878.46" y="460.40" font-family="'Liberation Serif', serif" font-size="8.2" text-anchor="end" >0,00</text>
<text class="s" x="239.22" y="459.10" font-family="'Liberation Serif', serif" font-size="8.3" text-anchor="middle" >ФБ</text>
<text class="s" x="295.12" y="474.50" font-family="'Liberation Serif', serif" font-size="8.2" text-anchor="end" >0,00</text>
<text class="s" x="349.12" y="474.50" font-family="'Liberation Serif', serif" font-size="8.2" text-anchor="end" >5 177,21</text>
<text class="s" x="389.32" y="474.50" font-family="'Liberation Serif', serif" font-size="8.2" text-anchor="end" >0,00</text>
<text class="s" x="436.52" y="474.50" font-family="'Liberation Serif', serif" font-size="8.2" text-anchor="end" >2 458,02</text>
<text class="s" x="476.12" y="474.50" font-family="'Liberation Serif', serif" font-size="8.2" text-anchor="end" >0,00</text>
<text class="s" x="523.72" y="474.50" font-family="'Liberation Serif', serif" font-size="8.2" text-anchor="end" >2 719,19</text>
<text class="s" x="563.92" y="474.50" font-family="'Liberation Serif', serif" font-size="8.2" text-anchor="end" >0,00</text>
<text class="s" x="611.12" y="474.50" font-family="'Liberation Serif', serif" font-size="8.2" text-anchor="end" >0,00</text>
<text class="s" x="651.12" y="474.50" font-family="'Liberation Serif', serif" font-size="8.2" text-anchor="end" >0,00</text>
<text class="s" x="698.22" y="474.50" font-family="'Liberation Serif', serif" font-size="8.2" text-anchor="end" >0,00</text>
<text class="s" x="737.62" y="474.50" font-family="'Liberation Serif', serif" font-size="8.2" text-anchor="end" >0,00</text>
<text class="s" x="791.82" y="474.50" font-family="'Liberation Serif', serif" font-size="8.2" text-anchor="end" >0,00</text>
<text class="s" x="831.12" y="474.50" font-family="'Liberation Serif', serif" font-size="8.2" text-anchor="end" >0,00</text>
<text class="s" x="878.32" y="474.50" font-family="'Liberation Serif', serif" font-size="8.2" text-anchor="end" >0,00</text>
<text class="s" x="239.08" y="473.20" font-family="'Liberation Serif', serif" font-size="8.3" text-anchor="middle" >БС</text>
<text class="s" x="294.98" y="488.30" font-family="'Liberation Serif', serif" font-size="8.2" text-anchor="end" >0,00</text>
<text class="s" x="348.98" y="488.30" font-family="'Liberation Serif', serif" font-size="8.2" text-anchor="end" >0,00</text>
<text class="s" x="389.18" y="488.30" font-family="'Liberation Serif', serif" font-size="8.2" text-anchor="end" >0,00</text>
<text class="s" x="436.38" y="488.30" font-family="'Liberation Serif', serif" font-size="8.2" text-anchor="end" >0,00</text>
<text class="s" x="475.98" y="488.30" font-family="'Liberation Serif', serif" font-size="8.2" text-anchor="end" >0,00</text>
<text class="s" x="523.58" y="488.30" font-family="'Liberation Serif', serif" font-size="8.2" text-anchor="end" >0,00</text>
<text class="s" x="563.78" y="488.30" font-family="'Liberation Serif', serif" font-size="8.2" text-anchor="end" >0,00</text>
<text class="s" x="610.98" y="488.30" font-family="'Liberation Serif', serif" font-size="8.2" text-anchor="end" >0,00</text>
<text class="s" x="650.98" y="488.30" font-family="'Liberation Serif', serif" font-size="8.2" text-anchor="end" >0,00</text>
<text class="s" x="698.08" y="488.30" font-family="'Liberation Serif', serif" font-size="8.2" text-anchor="end" >0,00</text>
<text class="s" x="737.48" y="488.30" font-family="'Liberation Serif', serif" font-size="8.2" text-anchor="end" >0,00</text>
<text class="s" x="791.68" y="488.30" font-family="'Liberation Serif', serif" font-size="8.2" text-anchor="end" >0,00</text>
<text class="s" x="830.98" y="488.30" font-family="'Liberation Serif', serif" font-size="8.2" text-anchor="end" >0,00</text>
<text class="s" x="878.18" y="488.30" font-family="'Liberation Serif', serif" font-size="8.2" text-anchor="end" >0,00</text>
<text class="s" x="238.95" y="487.00" font-family="'Liberation Serif', serif" font-size="8.3" text-anchor="middle" >МБ</text>
<text class="s" x="294.84" y="502.50" font-family="'Liberation Serif', serif" font-size="8.2" text-anchor="end" >0,00</text>
<text class="s" x="348.84" y="502.50" font-family="'Liberation Serif', serif" font-size="8.2" text-anchor="end" >0,00</text>
<text class="s" x="389.04" y="502.50" font-family="'Liberation Serif', serif" font-size="8.2" text-anchor="end" >0,00</text>
<text class="s" x="436.24" y="502.50" font-family="'Liberation Serif', serif" font-size="8.2" text-anchor="end" >0,00</text>
<text class="s" x="475.84" y="502.50" font-family="'Liberation Serif', serif" font-size="8.2" text-anchor="end" >0,00</text>
<text class="s" x="523.44" y="502.50" font-family="'Liberation Serif', serif" font-size="8.2" text-anchor="end" >0,00</text>
<text class="s" x="563.64" y="502.50" font-family="'Liberation Serif', serif" font-size="8.2" text-anchor="end" >0,00</text>
<text class="s" x="610.84" y="502.50" font-family="'Liberation Serif', serif" font-size="8.2" text-anchor="end" >0,00</text>
<text class="s" x="650.84" y="502.50" font-family="'Liberation Serif', serif" font-size="8.2" text-anchor="end" >0,00</text>
<text class="s" x="697.94" y="502.50" font-family="'Liberation Serif', serif" font-size="8.2" text-anchor="end" >0,00</text>
<text class="s" x="737.34" y="502.50" font-family="'Liberation Serif', serif" font-size="8.2" text-anchor="end" >0,00</text>
<text class="s" x="791.54" y="502.50" font-family="'Liberation Serif', serif" font-size="8.2" text-anchor="end" >0,00</text>
<text class="s" x="830.84" y="502.50" font-family="'Liberation Serif', serif" font-size="8.2" text-anchor="end" >0,00</text>
<text class="s" x="878.04" y="502.50" font-family="'Liberation Serif', serif" font-size="8.2" text-anchor="end" >0,00</text>
<text class="s" x="238.81" y="501.20" font-family="'Liberation Serif', serif" font-size="8.3" text-anchor="middle" >ВБ</text>
<text class="s" x="294.71" y="516.30" font-family="'Liberation Serif', serif" font-size="8.2" text-anchor="end" >0,00</text>
<text class="s" x="348.71" y="516.30" font-family="'Liberation Serif', serif" font-size="8.2" text-anchor="end" >258 860,80</text>
<text class="s" x="388.91" y="516.30" font-family="'Liberation Serif', serif" font-size="8.2" text-anchor="end" >0,00</text>
<text class="s" x="436.11" y="516.30" font-family="'Liberation Serif', serif" font-size="8.2" text-anchor="end" >122 901,32</text>
<text class="s" x="475.71" y="516.30" font-family="'Liberation Serif', serif" font-size="8.2" text-anchor="end" >0,00</text>
<text class="s" x="523.31" y="516.30" font-family="'Liberation Serif', serif" font-size="8.2" text-anchor="end" >135 959,48</text>
<text class="s" x="563.51" y="516.30" font-family="'Liberation Serif', serif" font-size="8.2" text-anchor="end" >0,00</text>
<text class="s" x="610.71" y="516.30" font-family="'Liberation Serif', serif" font-size="8.2" text-anchor="end" >0,00</text>
<text class="s" x="650.71" y="516.30" font-family="'Liberation Serif', serif" font-size="8.2" text-anchor="end" >0,00</text>
<text class="s" x="697.81" y="516.30" font-family="'Liberation Serif', serif" font-size="8.2" text-anchor="end" >0,00</text>
<text class="s" x="737.21" y="516.30" font-family="'Liberation Serif', serif" font-size="8.2" text-anchor="end" >0,00</text>
<text class="s" x="791.41" y="516.30" font-family="'Liberation Serif', serif" font-size="8.2" text-anchor="end" >0,00</text>
<text class="s" x="830.71" y="516.30" font-family="'Liberation Serif', serif" font-size="8.2" text-anchor="end" >0,00</text>
<text class="s" x="877.91" y="516.30" font-family="'Liberation Serif', serif" font-size="8.2" text-anchor="end" >0,00</text>
<text class="s" x="221.19" y="515.60" font-family="'Liberation Serif', serif" font-size="8.2" text-anchor="middle" >Общая стоимость</text>
<text class="s" x="294.57" y="530.50" font-family="'Liberation Serif', serif" font-size="8.2" text-anchor="end" >0,00</text>
<text class="s" x="348.57" y="530.50" font-family="'Liberation Serif', serif" font-size="8.2" text-anchor="end" >253 683,59</text>
<text class="s" x="388.77" y="530.50" font-family="'Liberation Serif', serif" font-size="8.2" text-anchor="end" >0,00</text>
<text class="s" x="435.97" y="530.50" font-family="'Liberation Serif', serif" font-size="8.2" text-anchor="end" >120 443,30</text>
<text class="s" x="475.57" y="530.50" font-family="'Liberation Serif', serif" font-size="8.2" text-anchor="end" >0,00</text>
<text class="s" x="523.17" y="530.50" font-family="'Liberation Serif', serif" font-size="8.2" text-anchor="end" >133 240,29</text>
<text class="s" x="563.37" y="530.50" font-family="'Liberation Serif', serif" font-size="8.2" text-anchor="end" >0,00</text>
<text class="s" x="610.57" y="530.50" font-family="'Liberation Serif', serif" font-size="8.2" text-anchor="end" >0,00</text>
<text class="s" x="650.57" y="530.50" font-family="'Liberation Serif', serif" font-size="8.2" text-anchor="end" >0,00</text>
<text class="s" x="697.67" y="530.50" font-family="'Liberation Serif', serif" font-size="8.2" text-anchor="end" >0,00</text>
<text class="s" x="737.07" y="530.50" font-family="'Liberation Serif', serif" font-size="8.2" text-anchor="end" >0,00</text>
<text class="s" x="791.27" y="530.50" font-family="'Liberation Serif', serif" font-size="8.2" text-anchor="end" >0,00</text>
<text class="s" x="830.57" y="530.50" font-family="'Liberation Serif', serif" font-size="8.2" text-anchor="end" >0,00</text>
<text class="s" x="877.77" y="530.50" font-family="'Liberation Serif', serif" font-size="8.2" text-anchor="end" >0,00</text>
<text class="s" x="238.53" y="529.20" font-family="'Liberation Serif', serif" font-size="8.3" text-anchor="middle" >ФБ</text>
<text class="s" x="294.43" y="544.30" font-family="'Liberation Serif', serif" font-size="8.2" text-anchor="end" >0,00</text>
<text class="s" x="348.43" y="544.30" font-family="'Liberation Serif', serif" font-size="8.2" text-anchor="end" >5 177,21</text>
<text class="s" x="388.63" y="544.30" font-family="'Liberation Serif', serif" font-size="8.2" text-anchor="end" >0,00</text>
<text class="s" x="435.83" y="544.30" font-family="'Liberation Serif', serif" font-size="8.2" text-anchor="end" >2 458,02</text>
<text class="s" x="475.43" y="544.30" font-family="'Liberation Serif', serif" font-size="8.2" text-anchor="end" >0,00</text>
<text class="s" x="523.03" y="544.30" font-family="'Liberation Serif', serif" font-size="8.2" text-anchor="end" >2 719,19</text>
<text class="s" x="563.23" y="544.30" font-family="'Liberation Serif', serif" font-size="8.2" text-anchor="end" >0,00</text>
<text class="s" x="610.43" y="544.30" font-family="'Liberation Serif', serif" font-size="8.2" text-anchor="end" >0,00</text>
<text class="s" x="650.43" y="544.30" font-family="'Liberation Serif', serif" font-size="8.2" text-anchor="end" >0,00</text>
<text class="s" x="697.53" y="544.30" font-family="'Liberation Serif', serif" font-size="8.2" text-anchor="end" >0,00</text>
<text class="s" x="736.93" y="544.30" font-family="'Liberation Serif', serif" font-size="8.2" text-anchor="end" >0,00</text>
<text class="s" x="791.13" y="544.30" font-family="'Liberation Serif', serif" font-size="8.2" text-anchor="end" >0,00</text>
<text class="s" x="830.43" y="544.30" font-family="'Liberation Serif', serif" font-size="8.2" text-anchor="end" >0,00</text>
<text class="s" x="877.63" y="544.30" font-family="'Liberation Serif', serif" font-size="8.2" text-anchor="end" >0,00</text>
<text class="s" x="238.39" y="543.00" font-family="'Liberation Serif', serif" font-size="8.3" text-anchor="middle" >БС</text>
<text class="s" x="294.29" y="558.70" font-family="'Liberation Serif', serif" font-size="8.2" text-anchor="end" >0,00</text>
<text class="s" x="348.29" y="558.70" font-family="'Liberation Serif', serif" font-size="8.2" text-anchor="end" >0,00</text>
<text class="s" x="388.49" y="558.70" font-family="'Liberation Serif', serif" font-size="8.2" text-anchor="end" >0,00</text>
<text class="s" x="435.69" y="558.70" font-family="'Liberation Serif', serif" font-size="8.2" text-anchor="end" >0,00</text>
<text class="s" x="475.29" y="558.70" font-family="'Liberation Serif', serif" font-size="8.2" text-anchor="end" >0,00</text>
<text class="s" x="522.89" y="558.70" font-family="'Liberation Serif', serif" font-size="8.2" text-anchor="end" >0,00</text>
<text class="s" x="563.09" y="558.70" font-family="'Liberation Serif', serif" font-size="8.2" text-anchor="end" >0,00</text>
<text class="s" x="610.29" y="558.70" font-family="'Liberation Serif', serif" font-size="8.2" text-anchor="end" >0,00</text>
<text class="s" x="650.29" y="558.70" font-family="'Liberation Serif', serif" font-size="8.2" text-anchor="end" >0,00</text>
<text class="s" x="697.39" y="558.70" font-family="'Liberation Serif', serif" font-size="8.2" text-anchor="end" >0,00</text>
<text class="s" x="736.79" y="558.70" font-family="'Liberation Serif', serif" font-size="8.2" text-anchor="end" >0,00</text>
<text class="s" x="790.99" y="558.70" font-family="'Liberation Serif', serif" font-size="8.2" text-anchor="end" >0,00</text>
<text class="s" x="830.29" y="558.70" font-family="'Liberation Serif', serif" font-size="8.2" text-anchor="end" >0,00</text>
<text class="s" x="877.49" y="558.70" font-family="'Liberation Serif', serif" font-size="8.2" text-anchor="end" >0,00</text>
<text class="s" x="238.25" y="557.40" font-family="'Liberation Serif', serif" font-size="8.3" text-anchor="middle" >МБ</text>
<text class="s" x="294.15" y="572.70" font-family="'Liberation Serif', serif" font-size="8.2" text-anchor="end" >0,00</text>
<text class="s" x="348.15" y="572.70" font-family="'Liberation Serif', serif" font-size="8.2" text-anchor="end" >0,00</text>
<text class="s" x="388.35" y="572.70" font-family="'Liberation Serif', serif" font-size="8.2" text-anchor="end" >0,00</text>
<text class="s" x="435.55" y="572.70" font-family="'Liberation Serif', serif" font-size="8.2" text-anchor="end" >0,00</text>
<text class="s" x="475.15" y="572.70" font-family="'Liberation Serif', serif" font-size="8.2" text-anchor="end" >0,00</text>
<text class="s" x="522.75" y="572.70" font-family="'Liberation Serif', serif" font-size="8.2" text-anchor="end" >0,00</text>
<text class="s" x="562.95" y="572.70" font-family="'Liberation Serif', serif" font-size="8.2" text-anchor="end" >0,00</text>
<text class="s" x="610.15" y="572.70" font-family="'Liberation Serif', serif" font-size="8.2" text-anchor="end" >0,00</text>
<text class="s" x="650.15" y="572.70" font-family="'Liberation Serif', serif" font-size="8.2" text-anchor="end" >0,00</text>
<text class="s" x="697.25" y="572.70" font-family="'Liberation Serif', serif" font-size="8.2" text-anchor="end" >0,00</text>
<text class="s" x="736.65" y="572.70" font-family="'Liberation Serif', serif" font-size="8.2" text-anchor="end" >0,00</text>
<text class="s" x="790.85" y="572.70" font-family="'Liberation Serif', serif" font-size="8.2" text-anchor="end" >0,00</text>
<text class="s" x="830.15" y="572.70" font-family="'Liberation Serif', serif" font-size="8.2" text-anchor="end" >0,00</text>
<text class="s" x="877.35" y="572.70" font-family="'Liberation Serif', serif" font-size="8.2" text-anchor="end" >0,00</text>
<text class="s" x="238.11" y="571.40" font-family="'Liberation Serif', serif" font-size="8.3" text-anchor="middle" >ВБ</text>
<text class="s" x="294.01" y="586.90" font-family="'Liberation Serif', serif" font-size="8.2" text-anchor="end" >0,00</text>
<text class="s" x="348.01" y="586.90" font-family="'Liberation Serif', serif" font-size="8.2" text-anchor="end" >1 183 559,47</text>
<text class="s" x="388.21" y="586.90" font-family="'Liberation Serif', serif" font-size="8.2" text-anchor="end" >0,00</text>
<text class="s" x="435.41" y="586.90" font-family="'Liberation Serif', serif" font-size="8.2" text-anchor="end" >0,00</text>
<text class="s" x="475.01" y="586.90" font-family="'Liberation Serif', serif" font-size="8.2" text-anchor="end" >0,00</text>
<text class="s" x="522.61" y="586.90" font-family="'Liberation Serif', serif" font-size="8.2" text-anchor="end" >0,00</text>
<text class="s" x="562.81" y="586.90" font-family="'Liberation Serif', serif" font-size="8.2" text-anchor="end" >0,00</text>
<text class="s" x="610.01" y="586.90" font-family="'Liberation Serif', serif" font-size="8.2" text-anchor="end" >0,00</text>
<text class="s" x="650.01" y="586.90" font-family="'Liberation Serif', serif" font-size="8.2" text-anchor="end" >0,00</text>
<text class="s" x="697.11" y="586.90" font-family="'Liberation Serif', serif" font-size="8.2" text-anchor="end" >109 033,36</text>
<text class="s" x="736.51" y="586.90" font-family="'Liberation Serif', serif" font-size="8.2" text-anchor="end" >0,00</text>
<text class="s" x="790.71" y="586.90" font-family="'Liberation Serif', serif" font-size="8.2" text-anchor="end" >432 463,54</text>
<text class="s" x="830.01" y="586.90" font-family="'Liberation Serif', serif" font-size="8.2" text-anchor="end" >0,00</text>
<text class="s" x="877.21" y="586.90" font-family="'Liberation Serif', serif" font-size="8.2" text-anchor="end" >642 062,57</text>
<text class="s" x="220.49" y="586.20" font-family="'Liberation Serif', serif" font-size="8.2" text-anchor="middle" >Общая стоимость</text>
<text class="s" x="19.00" y="262.80" font-family="'Liberation Serif', serif" font-size="8.12" text-anchor="start" >ИТОГО по Приморский край:</text>
<text class="a" x="18.30" y="332.80" font-family="'Liberation Sans', sans-serif" font-size="7.7" text-anchor="start" >Итого по Артемовскому городскому округу:</text>
<text class="a" x="17.60" y="473.30" font-family="'Liberation Sans', sans-serif" font-size="7.61" text-anchor="start" >Итого по Арсеньевскому городскому округу:</text>
<text class="s" x="27.00" y="432.60" font-family="'Liberation Serif', serif" font-size="8.2" text-anchor="start" >1</text>
<text class="a" x="44.20" y="421.60" font-family="'Liberation Sans', sans-serif" font-size="7.7" text-anchor="start" >Артемовский</text>
<text class="a" x="44.20" y="432.60" font-family="'Liberation Sans', sans-serif" font-size="7.7" text-anchor="start" >городской округ</text>
<text class="a" x="115.80" y="411.30" font-family="'Liberation Sans', sans-serif" font-size="7.5" text-anchor="start" >Строительство</text>
<text class="a" x="115.80" y="421.60" font-family="'Liberation Sans', sans-serif" font-size="7.5" text-anchor="start" >сетей</text>
<text class="a" x="115.80" y="432.60" font-family="'Liberation Sans', sans-serif" font-size="7.5" text-anchor="start" >водоснабжения</text>
<text class="s" x="26.50" y="571.60" font-family="'Liberation Serif', serif" font-size="8.2" text-anchor="start" >2</text>
<text class="a" x="42.60" y="561.60" font-family="'Liberation Sans', sans-serif" font-size="7.7" text-anchor="start" >Арсеньевский</text>
<text class="a" x="42.60" y="571.60" font-family="'Liberation Sans', sans-serif" font-size="7.7" text-anchor="start" >городской округ</text>
<text class="a" x="114.20" y="514.30" font-family="'Liberation Sans', sans-serif" font-size="7.5" text-anchor="start"  clip-path="url(#cp5)">Строительство и</text>
<text class="a" x="114.20" y="524.45" font-family="'Liberation Sans', sans-serif" font-size="7.5" text-anchor="start"  clip-path="url(#cp5)">реконструкция</text>
<text class="a" x="114.20" y="534.60" font-family="'Liberation Sans', sans-serif" font-size="7.5" text-anchor="start"  clip-path="url(#cp5)">(модернизация)</text>
<text class="a" x="114.20" y="544.75" font-family="'Liberation Sans', sans-serif" font-size="7.5" text-anchor="start"  clip-path="url(#cp5)">объектов</text>
<text class="a" x="114.20" y="554.90" font-family="'Liberation Sans', sans-serif" font-size="7.5" text-anchor="start"  clip-path="url(#cp5)">питьевого</text>
<text class="a" x="114.20" y="565.05" font-family="'Liberation Sans', sans-serif" font-size="7.5" text-anchor="start"  clip-path="url(#cp5)">водоснабжения на</text>
<text class="a" x="114.20" y="575.20" font-family="'Liberation Sans', sans-serif" font-size="7.5" text-anchor="start"  clip-path="url(#cp5)">п. Даниая, г.</text>
<text class="a" x="0" y="0" transform="translate(208.50,266.70) rotate(-90)" font-family="'Liberation Sans', sans-serif" font-size="7.4" text-anchor="middle">в том числе:</text>
<text class="a" x="0" y="0" transform="translate(207.81,336.45) rotate(-90)" font-family="'Liberation Sans', sans-serif" font-size="7.4" text-anchor="middle">в том числе:</text>
<text class="a" x="0" y="0" transform="translate(207.12,406.60) rotate(-90)" font-family="'Liberation Sans', sans-serif" font-size="7.4" text-anchor="middle">в том числе:</text>
<text class="a" x="0" y="0" transform="translate(206.42,477.25) rotate(-90)" font-family="'Liberation Sans', sans-serif" font-size="7.4" text-anchor="middle">в том числе:</text>
<text class="a" x="0" y="0" transform="translate(205.72,547.50) rotate(-90)" font-family="'Liberation Sans', sans-serif" font-size="7.4" text-anchor="middle">в том числе:</text>
</svg></body></html>
